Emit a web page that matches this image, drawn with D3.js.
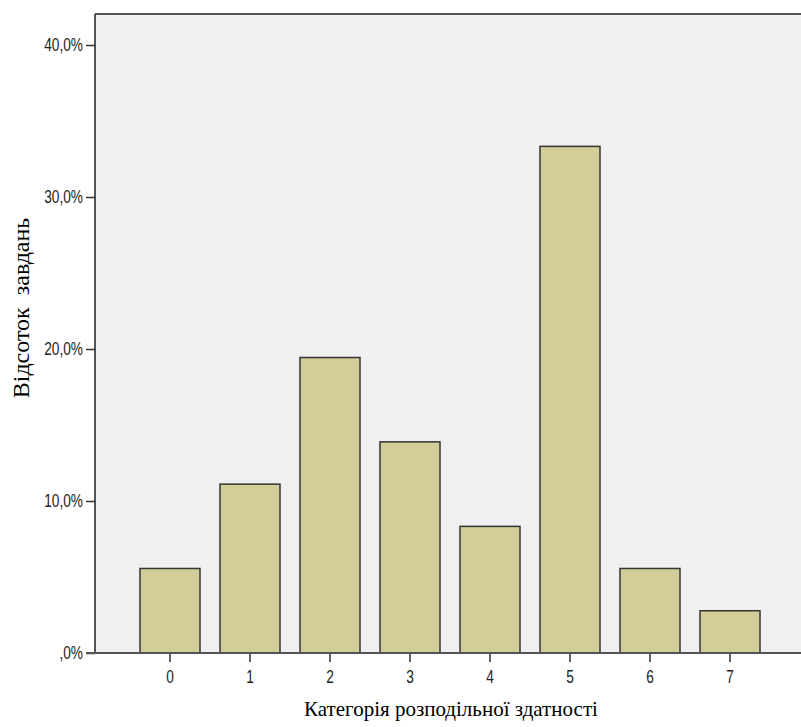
<!DOCTYPE html>
<html><head><meta charset="utf-8">
<script src="https://cdn.jsdelivr.net/npm/d3@7"></script>
<style>body{margin:0;background:#fff}</style>
</head><body>
<script>
const categories = ["0","1","2","3","4","5","6","7"];
const values = [5.56, 11.11, 19.44, 13.89, 8.33, 33.33, 5.56, 2.78];
const yTickValues = [0, 10, 20, 30, 40];
const yTickLabels = [",0%", "10,0%", "20,0%", "30,0%", "40,0%"];
const xTitle = "Категорія розподільної здатності";
const yTitle = "Відсоток\u00a0\u00a0завдань";

const W = 801, H = 727;
const pL = 95, pT = 14, pR = 801, pB = 653;
const svg = d3.select("body").append("svg").attr("width", W).attr("height", H);

const x = d3.scaleBand().domain(categories).range([130, 770]).paddingInner(0.25).paddingOuter(0.125);
const y = d3.scaleLinear().domain([0, 40]).range([pB, 45]);

svg.append("rect").attr("x", pL).attr("y", pT).attr("width", pR - pL).attr("height", pB - pT).attr("fill", "#f0f0f0");

svg.selectAll("rect.bar").data(values).join("rect").attr("class","bar")
  .attr("x", (d,i) => x(categories[i]))
  .attr("y", d => y(d))
  .attr("width", x.bandwidth())
  .attr("height", d => y(0) - y(d))
  .attr("fill", "#d3ce97").attr("stroke", "#333").attr("stroke-width", 1.5);

svg.append("line").attr("x1", pL).attr("x2", pR).attr("y1", pT).attr("y2", pT).attr("stroke", "#555").attr("stroke-width", 2);
svg.append("line").attr("x1", pL).attr("x2", pL).attr("y1", pT).attr("y2", pB).attr("stroke", "#555").attr("stroke-width", 2);

const tickFont = "'Liberation Sans',Arial,sans-serif";
const sx = 0.76;

const yAxis = d3.axisLeft(y).tickValues(yTickValues).tickSize(9).tickPadding(3)
  .tickFormat((d,i) => yTickLabels[i]);
const gy = svg.append("g").attr("transform", `translate(${pL},0)`).call(yAxis);
gy.select(".domain").remove();
gy.selectAll(".tick line").attr("stroke", "#333").attr("stroke-width", 1.5);
gy.selectAll("text").attr("font-family", tickFont).attr("font-size", 18).attr("fill", "#222")
  .attr("x", -12 / sx).attr("transform", `scale(${sx},1)`);

const xAxis = d3.axisBottom(x).tickSize(9).tickPadding(8);
const gx = svg.append("g").attr("transform", `translate(0,${pB})`).call(xAxis);
gx.select(".domain").remove();
gx.selectAll(".tick line").attr("stroke", "#333").attr("stroke-width", 1.5);
gx.selectAll("text").attr("font-family", tickFont).attr("font-size", 18).attr("fill", "#222")
  .attr("transform", `scale(${sx},1)`);

svg.append("line").attr("x1", pL - 9).attr("x2", pR).attr("y1", pB).attr("y2", pB).attr("stroke", "#555").attr("stroke-width", 2);

svg.append("text").attr("x", 451).attr("y", 716).attr("text-anchor", "middle")
  .attr("font-family", "'Liberation Serif','Times New Roman',serif").attr("font-size", 21).attr("fill", "#000")
  .text(xTitle);
svg.append("text").attr("transform", "translate(29,308) rotate(-90)").attr("text-anchor", "middle")
  .attr("font-family", "'Liberation Serif','Times New Roman',serif").attr("font-size", 24).attr("fill", "#000")
  .text(yTitle);
</script>
</body></html>
